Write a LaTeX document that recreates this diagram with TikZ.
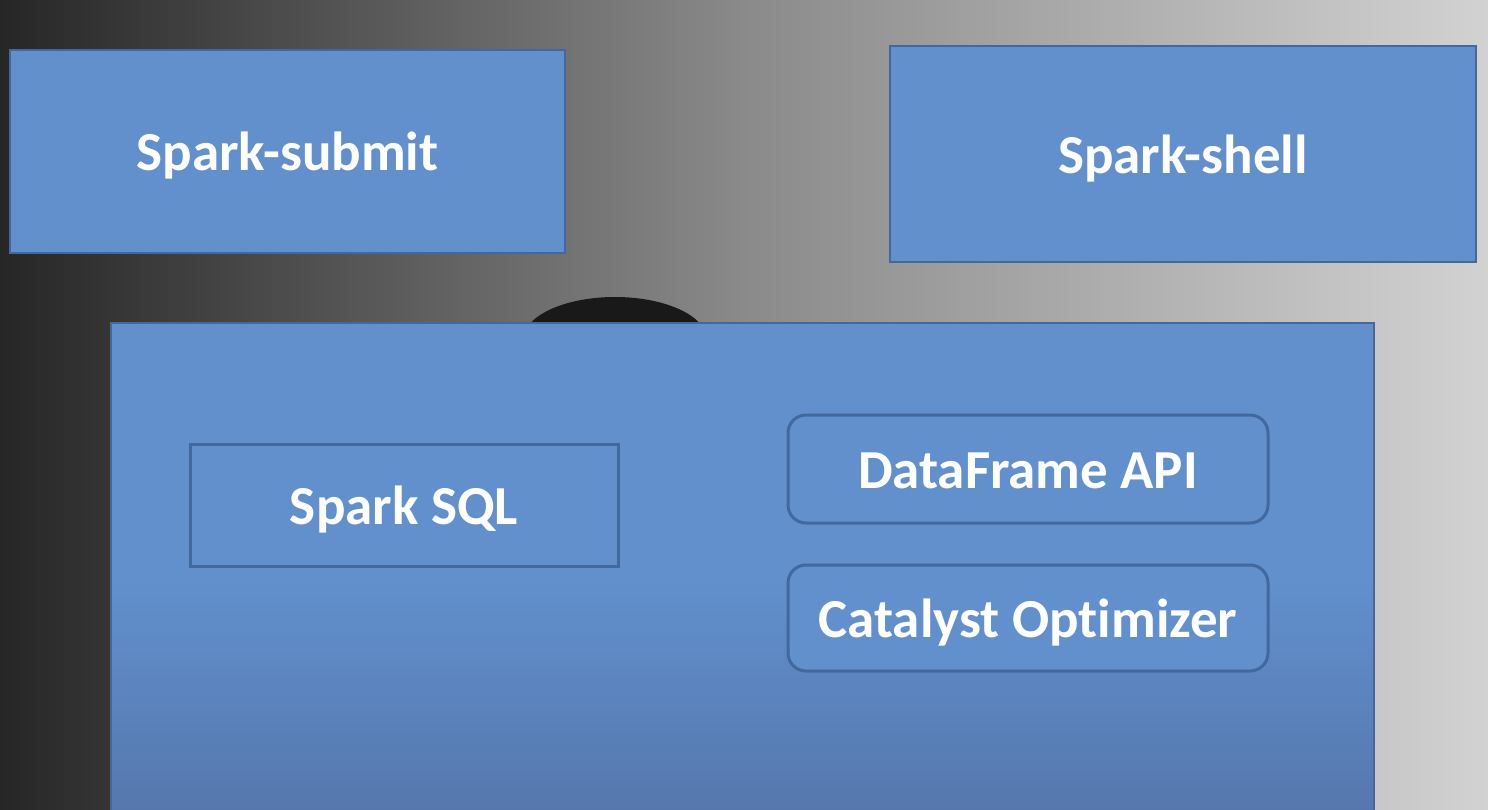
\documentclass[tikz,border=0pt]{standalone}
\usepackage{fontspec}
\setmainfont{Carlito}[RawFeature={-liga;-dlig;-clig}]
\definecolor{boxfill}{HTML}{6190CC}
\definecolor{boxfilldark}{HTML}{5677AE}
\definecolor{boxline}{HTML}{41699E}
\definecolor{bgleft}{HTML}{262626}
\definecolor{bgmid}{HTML}{8A8A8A}
\definecolor{bgright}{HTML}{D2D2D2}
\tikzset{
  lbl/.style={font=\fontsize{55}{60}\selectfont\bfseries, text=white, text height=39pt, text depth=0pt},
  topbox/.style={lbl, draw=boxline, line width=2.5pt, fill=boxfill, inner sep=0pt},
  sqlbox/.style={lbl, draw=boxline, line width=3pt, fill=boxfill, inner sep=0pt},
  roundbox/.style={lbl, draw=boxline, line width=3pt, fill=boxfill, rounded corners=18pt, inner sep=0pt},
}
\begin{document}
\begin{tikzpicture}[x=1pt,y=-1pt]
\useasboundingbox (0,0) rectangle (1488,810);
% background
\shade[left color=bgleft, right color=bgright, middle color=bgmid] (0,0) rectangle (1488,810);
% head silhouette behind the big box
\fill[black!90] (615,340) ellipse [x radius=92, y radius=43];
% big box
\fill[boxfill] (111,323) rectangle (1374,581);
\shade[top color=boxfill, bottom color=boxfilldark] (111,580) rectangle (1374,812);
\draw[boxline, line width=2pt] (111,812) -- (111,323) -- (1374,323) -- (1374,812);
\node[topbox, minimum width=555pt, minimum height=203pt] (submit) at (287.5,151.5) {Spark-submit};
\node[topbox, minimum width=586pt, minimum height=216pt] (shell) at (1183,154) {Spark-shell};
\node[sqlbox, minimum width=428pt, minimum height=122pt] (sql) at (404,505) {Spark SQL};
\node[roundbox, minimum width=480pt, minimum height=108pt] (df) at (1028,469) {DataFrame API};
\node[roundbox, minimum width=480pt, minimum height=106pt] (cat) at (1028,618) {Catalyst Optimizer};
\end{tikzpicture}
\end{document}
